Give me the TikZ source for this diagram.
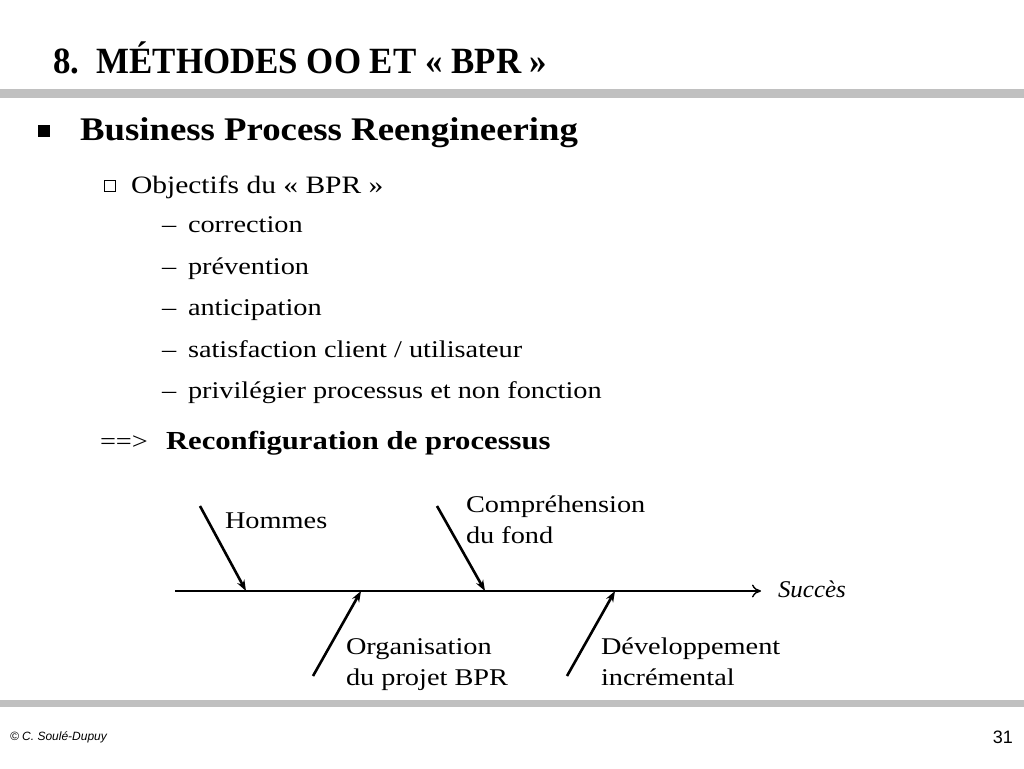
\documentclass[tikz,border=0pt]{standalone}
\usepackage{fontspec}
\setmainfont{Liberation Serif}[FakeStretch=1.18]
\newfontfamily\titlefont{Liberation Serif}[FakeStretch=0.943]
\newfontfamily\headfont{Liberation Serif}[FakeStretch=1.115]
\newfontfamily\succesfont{Liberation Serif}[FakeStretch=1.04]
\setsansfont{Liberation Sans}
\usepackage{tikz}
\usetikzlibrary{calc,arrows,arrows.meta,positioning}
\definecolor{bargray}{RGB}{192,192,192}
\newcommand{\fsz}[1]{\fontsize{#1}{#1}\selectfont}
\tikzset{
  txt/.style={anchor=base west, inner sep=0pt, outer sep=0pt},
  lbl/.style={txt, align=left, font=\fsz{24}, text depth=0pt},
  item/.style={txt, font=\fsz{24}},
  bone/.style={line width=2.6pt, -{Stealth[length=11pt, width=8pt]}},
  spine/.style={line width=1.4pt, -{To[length=9pt, width=13pt]}}
}

\begin{document}
\begin{tikzpicture}[x=1pt, y=-1pt]
    \useasboundingbox (0,0) rectangle (1024,768);
    % bandeaux gris
    \fill[bargray] (0,89) rectangle (1024,98);
    \fill[bargray] (0,700) rectangle (1024,707);
    % titre
    \node[txt, font=\titlefont\fsz{37}\bfseries] (title) at (53,74) {8.\ \ MÉTHODES OO ET « BPR »};
    % puces
    \fill (38,125) rectangle (50,137);
    \node[txt, font=\headfont\fsz{33}\bfseries] (bpr) at (80,140) {Business Process Reengineering};
    \draw[line width=1pt] (104.5,180.5) rectangle (115,191);
    \node[txt, font=\fsz{25}] (obj) at (131,193) {Objectifs du « BPR »};
    \foreach \t [count=\i] in {correction, prévention, anticipation,
        satisfaction client / utilisateur, privilégier processus et non fonction}{
      \node[item] (dash\i) at (162,191+41.5*\i) {–};
      \node[item] (it\i) at (188,191+41.5*\i) {\t};
    }
    \node[txt, font=\fsz{24}] (impl) at (100,449) {==>};
    \node[txt, font=\fsz{26}\bfseries] (reconf) at (166,449) {Reconfiguration de processus};
    % diagramme en arete de poisson
    \coordinate (s0) at (175,591);
    \coordinate (s1) at (761,591);
    \coordinate (h1) at (246,591);
    \coordinate (h2) at (485,591);
    \coordinate (h3) at (361,591);
    \coordinate (h4) at (615,591);
    \coordinate (t1) at (200,506);
    \coordinate (t2) at (437,506);
    \coordinate (t3) at (313,676);
    \coordinate (t4) at (567,676);
    \draw[spine] (s0) -- (s1);
    \node[txt, font=\succesfont\fsz{24}\itshape] (succes) at (778,597) {Succès};
    \draw[bone] (t1) -- (h1);
    \draw[bone] (t2) -- (h2);
    \draw[bone] (t3) -- (h3);
    \draw[bone] (t4) -- (h4);
    \node[lbl] (hom) at (225,528) {Hommes};
    \node[lbl] (comp) at (466,543) {Compréhension\\[7pt]du fond};
    \node[lbl] (orga) at (346,685) {Organisation\\[7pt]du projet BPR};
    \node[lbl] (dev) at (601,685) {Développement\\[7pt]incrémental};
    % pied de page
    \node[txt, font=\sffamily\itshape\fsz{12}] (copy) at (10,740) {© C. Soulé-Dupuy};
    \node[anchor=base east, inner sep=0pt, font=\sffamily\fsz{18}] (page) at (1013,743) {31};
\end{tikzpicture}
\end{document}
